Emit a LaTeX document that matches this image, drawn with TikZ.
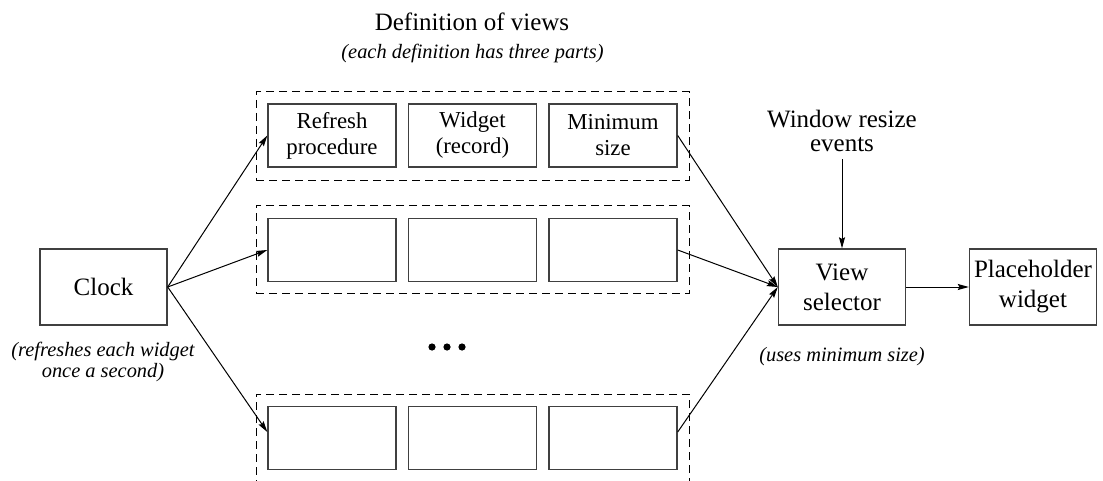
\documentclass[tikz,border=0pt]{standalone}
\usepackage{fontspec}
\setmainfont{Liberation Serif}
\usetikzlibrary{arrows.meta}
\begin{document}
\begin{tikzpicture}[x=0.5pt,y=-0.5pt,
  box/.style={draw=black!75, line width=0.7pt, minimum width=64pt, minimum height=31.5pt, inner sep=0pt, align=center, font=\fontsize{11.4}{13}\selectfont},
  bigbox/.style={draw=black!75, line width=0.7pt, minimum width=63.5pt, minimum height=38pt, inner sep=0pt, align=center, font=\fontsize{12.5}{15}\selectfont},
  dashbox/.style={draw, dash pattern=on 4pt off 2.5pt, line width=0.5pt, minimum width=216.5pt, minimum height=44pt, inner sep=0pt},
  arr/.style={-{Stealth[length=5.5pt,width=3pt,inset=0.8pt]}, line width=0.5pt},
  lbl/.style={font=\fontsize{12.5}{12}\selectfont, align=center, inner sep=0pt},
  note/.style={font=\fontsize{10.2}{10.5}\selectfont\itshape, align=center, inner sep=0pt}]
\useasboundingbox (0,0) rectangle (1103,481);
% dashed groups
\node[dashbox] (d1) at (472.5,136) {};
\node[dashbox] (d2) at (472.5,249.5) {};
\node[dashbox] (d3) at (472.5,438) {};
% row 1
\node[box] (r1a) at (332,135.5) {Refresh\\procedure};
\node[box] (r1b) at (472.5,135.5) {Widget\\(record)};
\node[box] (r1c) at (613,135.5) {Minimum\\size};
% row 2
\node[box] (r2a) at (332,250) {};
\node[box] (r2b) at (472.5,250) {};
\node[box] (r2c) at (613,250) {};
% row 3
\node[box] (r3a) at (332,438) {};
\node[box] (r3b) at (472.5,438) {};
\node[box] (r3c) at (613,438) {};
% dots
\fill (432,347) circle[radius=1.8pt];
\fill (447,347) circle[radius=1.8pt];
\fill (462,347) circle[radius=1.8pt];
% main boxes
\node[bigbox] (clock) at (103.5,287) {Clock};
\node[bigbox] (view) at (842,287) {View\\selector};
\node[bigbox] (ph) at (1033,287) {Placeholder\\widget};
% labels
\node[lbl] (title) at (472,22) {Definition of views};
\node[note] (sub) at (472.5,53) {(each definition has three parts)};
\node[lbl] (win) at (842,131) {Window resize\\events};
\node[note] (clocknote) at (103,362) {(refreshes each widget\\once a second)};
\node[note] (viewnote) at (842,357) {(uses minimum size)};
% connectors
\draw[arr] (clock.east) -- (r1a.west);
\draw[arr] (clock.east) -- (r2a.west);
\draw[arr] (clock.east) -- ([yshift=3pt]r3a.west);
\draw[arr] (r1c.east) -- (view.west);
\draw[arr] (r2c.east) -- (view.west);
\draw[arr] ([yshift=3pt]r3c.east) -- (view.west);
\draw[arr] ([yshift=-3.5pt]win.south) -- (view.north);
\draw[arr] (view.east) -- (ph.west);
\end{tikzpicture}
\end{document}
